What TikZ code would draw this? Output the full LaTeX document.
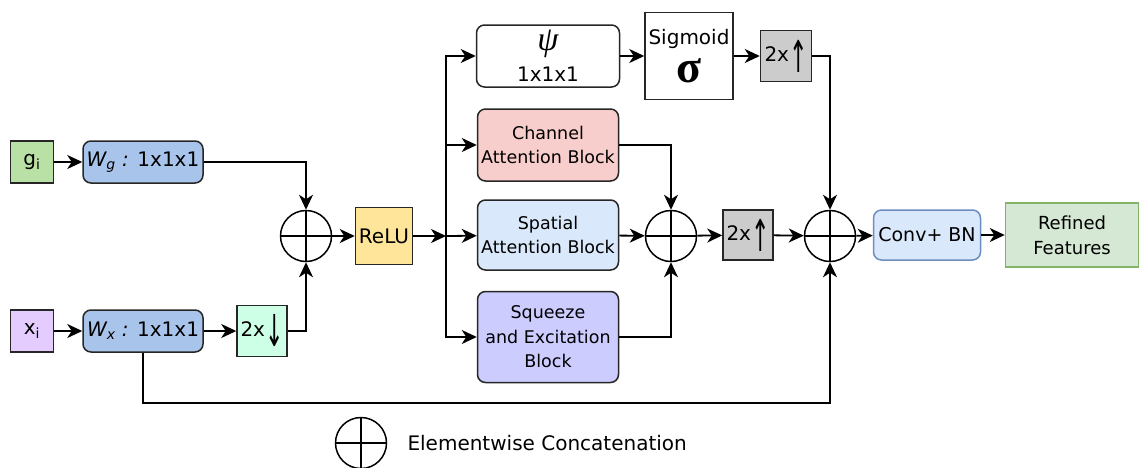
\documentclass[tikz,border=0pt]{standalone}
\usepackage{fontspec}
\usepackage{graphicx}
\setmainfont{DejaVu Sans}
\newfontfamily\greekfont{Liberation Serif}
\usetikzlibrary{arrows.meta}
\definecolor{ggreen}{HTML}{B9E0A5}
\definecolor{xlilac}{HTML}{E5CCFF}
\definecolor{wblue}{HTML}{A9C4EB}
\definecolor{mint}{HTML}{CCFFE6}
\definecolor{reluyel}{HTML}{FFE599}
\definecolor{upgray}{HTML}{CCCCCC}
\definecolor{chpink}{HTML}{F8CECC}
\definecolor{spblue}{HTML}{DAE8FC}
\definecolor{selav}{HTML}{CCCCFF}
\definecolor{convline}{HTML}{6C8EBF}
\definecolor{refgreen}{HTML}{D5E8D4}
\definecolor{refline}{HTML}{82B366}
\newcommand{\uparr}{$\vcenter{\hbox{\scalebox{0.5}[1.0]{\fontsize{44}{44}\selectfont↑}}}$}
\newcommand{\downarr}{$\vcenter{\hbox{\scalebox{0.5}[1.0]{\fontsize{44}{44}\selectfont↓}}}$}
\tikzset{
  blk/.style={draw=black!85, line width=1.5pt, fill=white, inner sep=0pt,
    align=center, font=\fontsize{20}{25}\selectfont},
  rblk/.style={blk, rounded corners=8pt},
  attn/.style={rblk, font=\fontsize{17.5}{24.5}\selectfont, minimum width=141pt},
  osum/.style={circle, draw=black, line width=1.5pt, minimum size=51pt, inner sep=0pt,
    path picture={\draw[line width=1.5pt]
      (path picture bounding box.north) -- (path picture bounding box.south)
      (path picture bounding box.west) -- (path picture bounding box.east);}},
  conn/.style={-{Stealth[length=15pt,width=14pt,inset=4.5pt]}, line width=1.8pt}
}
\begin{document}
\begin{tikzpicture}[x=1pt,y=-1pt]
      \useasboundingbox (0,0) rectangle (1140,467);
      \node[blk, fill=ggreen, minimum width=43pt, minimum height=42pt] (g) at (32,162) {g\textsubscript{i}};
      \node[rblk, fill=wblue, minimum width=120pt, minimum height=42pt] (wg) at (143,162) {{\itshape W\textsubscript{g} :} 1x1x1};
      \node[blk, fill=xlilac, minimum width=43pt, minimum height=42pt] (x) at (32,331) {x\textsubscript{i}};
      \node[rblk, fill=wblue, minimum width=120pt, minimum height=42pt] (wx) at (143,331) {{\itshape W\textsubscript{x} :} 1x1x1};
      \node[blk, fill=mint, minimum width=50pt, minimum height=51pt] (down) at (262,331) {2x\downarr};
      \node[osum] (p1) at (306,236) {};
      \node[blk, fill=reluyel, minimum width=57pt, minimum height=57pt] (relu) at (384,236) {ReLU};
      \coordinate (split) at (446,236);
      \node[rblk, minimum width=143pt, minimum height=62pt] (psi) at (548,56) {{\greekfont\itshape\fontsize{34}{20}\selectfont ψ}\\[6pt]1x1x1};
      \node[blk, minimum width=88pt, minimum height=87pt] (sig) at (689,56) {Sigmoid\\[9pt]{\greekfont\bfseries\fontsize{46}{20}\selectfont σ}};
      \node[blk, fill=upgray, minimum width=51pt, minimum height=51pt] (up1) at (786,56) {2x\uparr};
      \node[attn, fill=chpink, minimum height=72pt] (ch) at (548,145) {Channel\\Attention Block};
      \node[attn, fill=spblue, minimum height=70pt] (sp) at (548,235) {Spatial\\Attention Block};
      \node[attn, fill=selav, minimum height=91pt] (se) at (548,337) {Squeeze\\and Excitation\\Block};
      \node[osum] (p2) at (671,236) {};
      \node[blk, fill=upgray, minimum width=50pt, minimum height=50pt] (up2) at (748,235) {2x\uparr};
      \node[osum] (p3) at (830,236) {};
      \node[rblk, draw=convline, fill=spblue, minimum width=107pt, minimum height=50pt,
        font=\fontsize{19}{25}\selectfont] (conv) at (927,235) {Conv+ BN};
      \node[blk, draw=refline, fill=refgreen, minimum width=133pt, minimum height=64pt,
        font=\fontsize{18}{25}\selectfont] (ref) at (1072,235) {Refined\\Features};
      \coordinate (low) at (143,403);
      \node[osum] (leg) at (361,443) {};
      \node[anchor=west, font=\fontsize{20}{25}\selectfont] (legtxt) at (404,443) {Elementwise Concatenation};
      \begin{scope}[conn]
        \draw (g) -- (wg);
        \draw (x) -- (wx);
        \draw (wx) -- (down);
        \draw (wg) -| (p1);
        \draw (down) -| (p1);
        \draw (p1) -- (relu);
        \draw (relu) -- (split);
        \draw (split) -- (sp);
        \draw (split) |- (psi);
        \draw (split) |- (ch);
        \draw (split) |- (se);
        \draw (psi) -- (sig);
        \draw (sig) -- (up1);
        \draw (up1) -| (p3);
        \draw (ch) -| (p2);
        \draw (sp) -- (p2);
        \draw (se) -| (p2);
        \draw (p2) -- (up2);
        \draw (up2) -- (p3);
        \draw (p3) -- (conv);
        \draw (conv) -- (ref);
        \draw (wx) -- (low) -| (p3);
      \end{scope}
    \end{tikzpicture}
\end{document}
